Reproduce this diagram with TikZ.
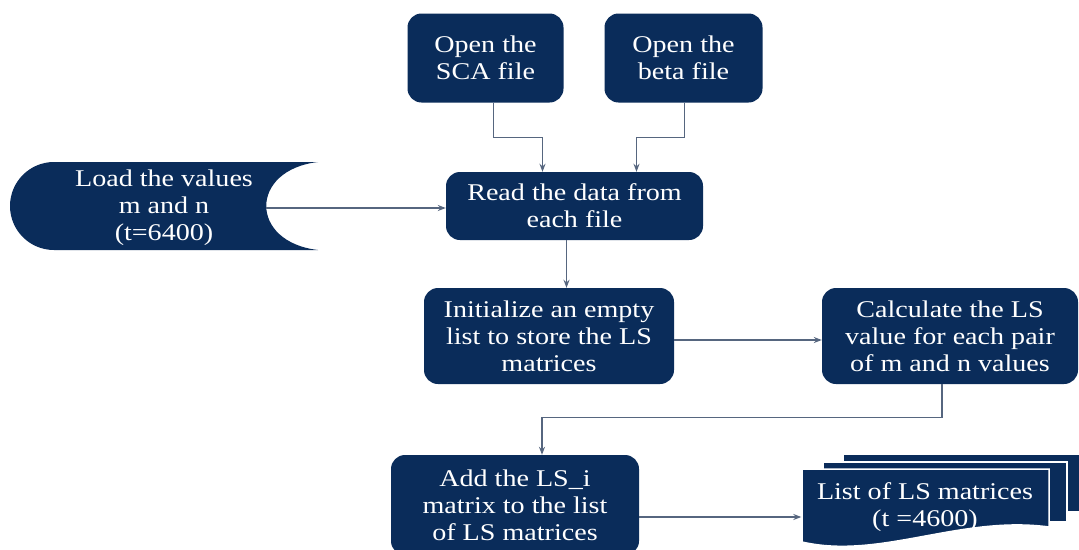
\documentclass[tikz,border=0pt]{standalone}
\usepackage{fontspec}
\setmainfont[FakeStretch=1.17]{Liberation Serif}
\usetikzlibrary{arrows.meta}
\definecolor{navy}{HTML}{0A2C5A}
\definecolor{linkgray}{HTML}{56667F}

\begin{document}
\begin{tikzpicture}[x=1pt, y=-1pt,
  box/.style={fill=navy, rounded corners=14pt, text=white, align=center,
    font=\fontsize{24}{27}\selectfont, inner sep=0pt},
  txt/.style={text=white, align=center, font=\fontsize{24}{27}\selectfont, inner sep=0pt},
  sheet/.style={fill=navy, draw=white, line width=1.5pt},
  arr/.style={draw=linkgray, line width=1.2pt, -{Stealth[length=8pt,width=6pt]}}]
\clip (0,0) rectangle (1079,549);
\fill[white] (0,0) rectangle (1079,549);

% the two input files
\node[box, minimum width=156pt, minimum height=89pt] (sca) at (485.5,58) {Open the\\SCA file};
\node[box, minimum width=158pt, minimum height=89pt] (beta) at (683.5,58) {Open the\\beta file};
\node[box, minimum width=257pt, minimum height=68pt] (read) at (574.5,206) {Read the data from\\each file};

% stored data shape
\fill[navy] (54,162) -- (318,162) .. controls (249,170) and (249,242) .. (318,250) -- (54,250)
  .. controls (29.7,250) and (10,230.3) .. (10,206) .. controls (10,181.7) and (29.7,162) .. (54,162);
\node[txt] (load) at (164,208) {Load the values\\m and n\\(t=6400)};
\coordinate (loadout) at (266,208);

\node[box, minimum width=250pt, minimum height=96pt] (init) at (549,336) {Initialize an empty\\list to store the LS\\matrices};
\node[box, minimum width=256pt, minimum height=96pt] (calc) at (950,336) {Calculate the LS\\value for each pair\\of m and n values};
\node[box, minimum width=248pt, minimum height=100pt] (add) at (515,505) {Add the LS\_i\\matrix to the list\\of LS matrices};

% multi document
\filldraw[sheet] (843,454) rectangle (1092,512);
\filldraw[sheet] (823,462) rectangle (1067,522);
\filldraw[sheet] (802,469) -- (1049,469) -- (1049,527)
  .. controls (960,515) and (880,560) .. (802,542) -- cycle;
\node[txt, minimum width=247pt, minimum height=74pt] (list) at (925,507) {List of LS matrices\\(t =4600)};

\draw[arr] ([xshift=8pt]sca.south) -- ++(0,35) -| ([xshift=-32pt]read.north);
\draw[arr] ([xshift=1pt]beta.south) -- ++(0,35) -| ([xshift=62pt]read.north);
\draw[arr] (loadout) -- (loadout -| read.west);
\draw[arr] ([xshift=-8pt]read.south) -- ([xshift=-8pt]read.south |- init.north);
\draw[arr] ([yshift=-4pt]init.east) -- ([yshift=-4pt]init.east -| calc.west);
\draw[arr] ([xshift=-8pt]calc.south) -- ++(0,33) -| ([xshift=27pt]add.north);
\draw[arr] ([yshift=-12pt]add.east) -- ([yshift=-12pt]add.east -| list.west);

\end{tikzpicture}
\end{document}
